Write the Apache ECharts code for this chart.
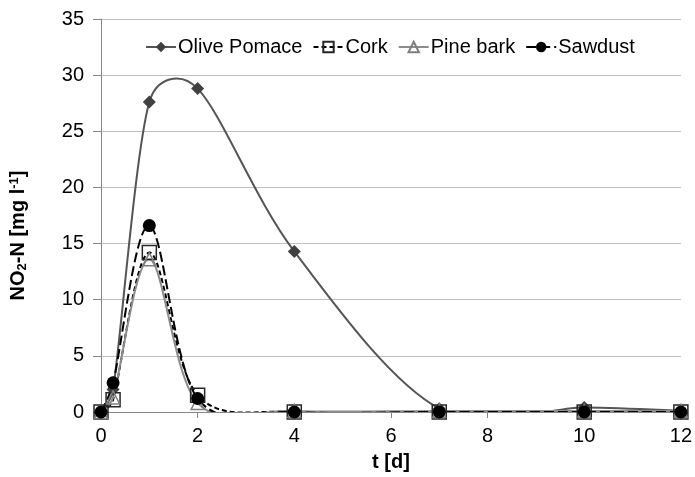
<!DOCTYPE html>
<html>
<head>
<meta charset="utf-8">
<script src="https://cdn.jsdelivr.net/npm/echarts@6/dist/echarts.min.js"></script>
<style>
  html, body { margin: 0; padding: 0; background: #fff; }
  #chart { width: 695px; height: 477px; }
</style>
</head>
<body>
<div id="chart"></div>
<script>
// sampling times [d]
const days = [0, 0.25, 1, 2, 4, 7, 10, 12]

// NO2-N [mg/l] per substrate
const olivePomace = [0, 2.0, 27.6, 28.8, 14.3, 0.3, 0.4, 0.1]
const cork = [0, 1.1, 14.2, 1.5, 0, 0, 0, 0]
const pineBark = [0, 1.3, 13.6, 0.8, 0.1, 0.1, 0.1, 0.1]
const sawdust = [0, 2.6, 16.6, 1.2, 0, 0, 0, 0]

const xTicks = [0, 2, 4, 6, 8, 10, 12]
const yTicks = [0, 5, 10, 15, 20, 25, 30, 35]

const font = 'Liberation Sans, Arial, sans-serif'

function pairs(vals) {
    return days.map((d, i) => [d, vals[i]])
}

// excel style smoothed line: bezier segments, tangent = (next - prev) / 6,
// tangent length limited to half the segment
function limit(v, max) {
    let len = Math.hypot(v[0], v[1])
    if (len > max && len > 0) {
        return [v[0] * max / len, v[1] * max / len]
    }
    return v
}

function smoothPath(p) {
    let d = 'M' + p[0][0] + ' ' + p[0][1]
    for (let i = 0; i < p.length - 1; i++) {
        let p0 = p[i - 1] || p[i]
        let p1 = p[i]
        let p2 = p[i + 1]
        let p3 = p[i + 2] || p[i + 1]
        let half = Math.hypot(p2[0] - p1[0], p2[1] - p1[1]) / 2
        let t1 = limit([(p2[0] - p0[0]) / 6, (p2[1] - p0[1]) / 6], half)
        let t2 = limit([(p3[0] - p1[0]) / 6, (p3[1] - p1[1]) / 6], half)
        d += ' C' + (p1[0] + t1[0]) + ' ' + (p1[1] + t1[1]) + ' ' +
            (p2[0] - t2[0]) + ' ' + (p2[1] - t2[1]) + ' ' + p2[0] + ' ' + p2[1]
    }
    return d
}

function curve(name, vals, stroke, dash) {
    return {
        name: name + ' curve',
        type: 'custom',
        silent: true,
        z: 1,
        data: pairs(vals),
        renderItem: function (params, api) {
            if (params.dataIndex !== 0) return
            let pts = vals.map((v, i) => api.coord([days[i], v]))
            let cs = params.coordSys
            return {
                type: 'group',
                clipPath: { type: 'rect', shape: { x: cs.x, y: cs.y - 1, width: cs.width, height: cs.height + 1 } },
                children: [{
                    type: 'path',
                    shape: { pathData: smoothPath(pts) },
                    style: { fill: 'none', stroke: stroke, lineWidth: 2, lineDash: dash }
                }]
            }
        }
    }
}

function markers(name, vals, symbol, size, lineColor, dash, itemStyle) {
    return {
        name: name,
        type: 'line',
        z: 3,
        data: pairs(vals),
        symbol: symbol,
        symbolSize: size,
        showAllSymbol: true,
        lineStyle: { color: lineColor, width: 2, type: dash, opacity: 0 },
        itemStyle: itemStyle
    }
}

let myChart = echarts.init(document.getElementById('chart'))

let option = {
    animation: false,
    grid: {
        left: 100,
        right: 14,
        top: 19,
        bottom: 65
    },
    legend: {
        top: 32,
        left: 140,
        itemGap: 10,
        itemWidth: 30,
        itemHeight: 13,
        textStyle: {
            fontFamily: font,
            fontSize: 20,
            color: '#000',
            padding: [0, 0, 0, -3]
        },
        data: [
            { name: 'Olive Pomace', lineStyle: { opacity: 1 } },
            { name: 'Cork', lineStyle: { opacity: 1 } },
            { name: 'Pine bark', lineStyle: { opacity: 1 } },
            { name: 'Sawdust', lineStyle: { opacity: 1 } }
        ]
    },
    xAxis: {
        type: 'value',
        min: xTicks[0],
        max: xTicks[xTicks.length - 1],
        interval: 2,
        name: 't [d]',
        nameLocation: 'middle',
        nameGap: 40,
        nameTextStyle: {
            fontFamily: font,
            fontSize: 20,
            fontWeight: 'bold',
            color: '#000'
        },
        axisLine: { lineStyle: { color: '#868686', width: 1 } },
        axisTick: { show: true, length: 6, lineStyle: { color: '#868686' } },
        axisLabel: {
            fontFamily: font,
            fontSize: 20,
            color: '#000',
            margin: 14
        },
        splitLine: { show: false }
    },
    yAxis: {
        type: 'value',
        min: yTicks[0],
        max: yTicks[yTicks.length - 1],
        interval: 5,
        name: '{b|NO}{sub|2}{b|-N [mg l}{sup|-1}{b|]}',
        nameLocation: 'middle',
        nameRotate: 90,
        nameGap: 72,
        nameTextStyle: {
            fontFamily: font,
            fontSize: 20,
            fontWeight: 'bold',
            color: '#000',
            padding: [0, 40, 0, 0],
            rich: {
                b: { fontFamily: font, fontSize: 20, fontWeight: 'bold', color: '#000' },
                sub: { fontFamily: font, fontSize: 13, fontWeight: 'bold', color: '#000', verticalAlign: 'bottom', padding: [8, 0, 0, 0] },
                sup: { fontFamily: font, fontSize: 13, fontWeight: 'bold', color: '#000', verticalAlign: 'top', padding: [0, 0, 8, 0] }
            }
        },
        axisLine: { show: true, lineStyle: { color: '#868686', width: 1 } },
        axisTick: { show: true, length: 8, lineStyle: { color: '#868686' } },
        axisLabel: {
            fontFamily: font,
            fontSize: 20,
            color: '#000',
            margin: 17
        },
        splitLine: { lineStyle: { color: '#c0c0c0', width: 1 } }
    },
    series: [
        curve('Olive Pomace', olivePomace, '#555555', null),
        curve('Cork', cork, '#000000', [5, 3]),
        curve('Pine bark', pineBark, '#8c8c8c', null),
        curve('Sawdust', sawdust, '#000000', [10, 4]),
        markers('Olive Pomace', olivePomace, 'diamond', 13, '#555555', 'solid',
            { color: '#404040', borderWidth: 0 }),
        markers('Cork', cork, 'rect', 14, '#000000', [5, 3],
            { color: 'rgba(255,255,255,0)', borderColor: '#262626', borderWidth: 1.5 }),
        markers('Pine bark', pineBark, 'triangle', 13, '#8c8c8c', 'solid',
            { color: 'rgba(255,255,255,0)', borderColor: '#7f7f7f', borderWidth: 1.5 }),
        markers('Sawdust', sawdust, 'circle', 13, '#000000', [10, 4],
            { color: '#000', borderWidth: 0 })
    ]
}

myChart.setOption(option)
</script>
</body>
</html>
